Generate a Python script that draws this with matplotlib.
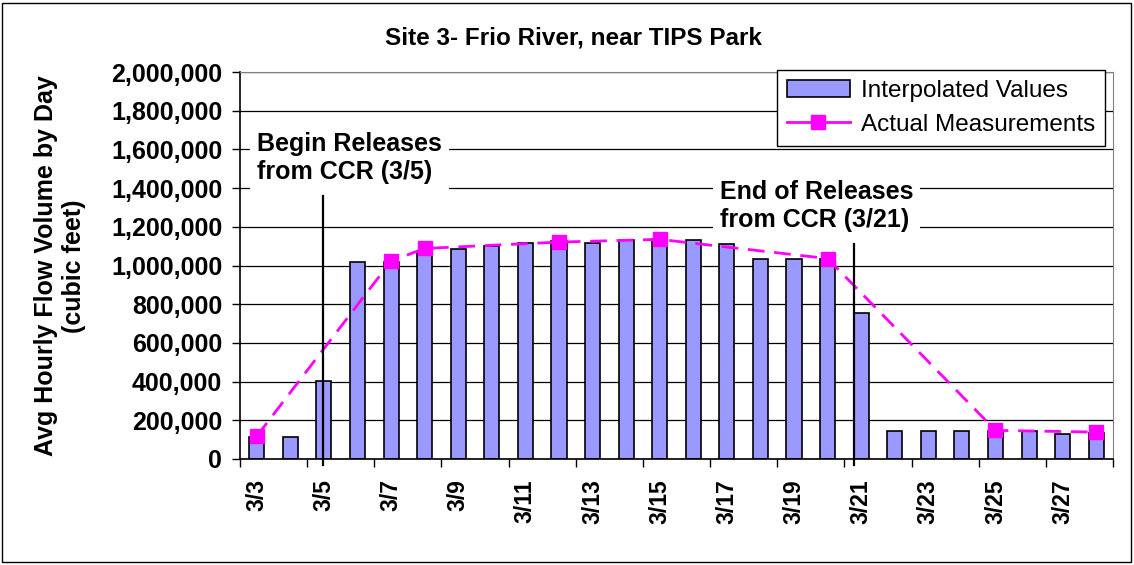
import numpy as np
import matplotlib
matplotlib.use('Agg')
import matplotlib.pyplot as plt
from matplotlib.patches import Rectangle
from matplotlib.lines import Line2D
from matplotlib.ticker import FixedLocator, FuncFormatter

plt.rcParams['font.family'] = ['Liberation Sans', 'DejaVu Sans']

# ---- data ----
days = ['3/3', '3/4', '3/5', '3/6', '3/7', '3/8', '3/9', '3/10', '3/11', '3/12',
        '3/13', '3/14', '3/15', '3/16', '3/17', '3/18', '3/19', '3/20', '3/21',
        '3/22', '3/23', '3/24', '3/25', '3/26', '3/27', '3/28']
interpolated = [114000, 114000, 401000, 1017000, 1020000, 1076000, 1083000, 1100000,
                1118000, 1125000, 1118000, 1131000, 1135000, 1131000, 1111000, 1033000,
                1033000, 1033000, 756000, 144000, 144000, 144000, 144000, 144000,
                127000, 136000]
measured_days = ['3/3', '3/7', '3/8', '3/12', '3/15', '3/20', '3/25', '3/28']
measured = [118000, 1023000, 1088000, 1121000, 1135000, 1036000, 148000, 139000]

x = np.arange(len(days))
xm = [days.index(d) for d in measured_days]

fig = plt.figure(figsize=(11.34, 5.65), dpi=100)
ax = fig.add_axes([240 / 1134, 1 - 459 / 565, 873 / 1134, 387 / 565])

ax.set_axisbelow(True)
ax.yaxis.grid(True, color='black', linewidth=0.9)

bars = ax.bar(x, interpolated, width=0.45, color='#9999FF', edgecolor='black',
              linewidth=1.2, zorder=2)
ax.plot(xm, measured, color='#FF00FF', linestyle='--', dashes=(6, 3.5), linewidth=2,
        marker='s', markersize=9.5, zorder=3)

ax.set_xlim(-0.5, len(days) - 0.5)
ax.set_ylim(0, 2000000)
ax.set_yticks(np.arange(0, 2000001, 200000))
ax.yaxis.set_major_formatter(FuncFormatter(lambda v, _: f'{v:,.0f}'))

# ticks between categories every 2 days, labels on every other day
ax.xaxis.set_major_locator(FixedLocator(np.arange(-0.5, len(days), 2)))
ax.xaxis.set_minor_locator(FixedLocator(x[::2]))
ax.xaxis.set_major_formatter(FuncFormatter(lambda v, _: ''))
ax.set_xticklabels(days[::2], minor=True)
ax.tick_params(axis='x', which='major', length=5.8, width=1, direction='out')
ax.tick_params(axis='x', which='minor', length=0, pad=14.5, labelsize=16.5,
               labelrotation=90)
ax.tick_params(axis='y', length=5.8, width=1, labelsize=18, pad=7)
for lab in ax.get_xticklabels(minor=True) + ax.get_yticklabels():
    lab.set_fontweight('bold')

for s in ['top', 'right']:
    ax.spines[s].set_color('#808080')
ax.spines['left'].set_linewidth(1.2)
ax.spines['bottom'].set_linewidth(1.2)

# release markers
ax.plot([1.96, 1.96], [1361000, -31000], color='black', linewidth=1.6, clip_on=False, zorder=4)
ax.plot([17.80, 17.80], [1112000, -31000], color='black', linewidth=1.6, clip_on=False, zorder=4)
ax.text(0.0, 1557000, 'Begin Releases\nfrom CCR (3/5)', ha='left', va='center',
        fontsize=18, fontweight='bold', zorder=5,
        bbox=dict(facecolor='white', edgecolor='none', pad=5))
ax.text(13.79, 1309000, 'End of Releases\nfrom CCR (3/21)', ha='left', va='center',
        fontsize=18, fontweight='bold', zorder=5,
        bbox=dict(facecolor='white', edgecolor='none', pad=5))

meas_handle = Line2D([], [], color='#FF00FF', linewidth=2, marker='s', markersize=9.5)
leg = ax.legend([bars, meas_handle], ['Interpolated Values', 'Actual Measurements'],
                loc='upper right', bbox_to_anchor=(1105 / 1134, 1 - 70 / 565),
                bbox_transform=fig.transFigure, borderaxespad=0, fontsize=17.5,
                frameon=True, fancybox=False, framealpha=1, edgecolor='black',
                handlelength=2.6, handletextpad=0.45, borderpad=0.4, labelspacing=0.5)
leg.get_frame().set_linewidth(1)

fig.text(573 / 1134, 1 - 38 / 565, 'Site 3- Frio River, near TIPS Park', ha='center',
         va='center', fontsize=17.5, fontweight='bold')
fig.text(60 / 1134, 1 - 266 / 565, 'Avg Hourly Flow Volume by Day\n(cubic feet)',
         rotation=90, ha='center', va='center', fontsize=18, fontweight='bold',
         multialignment='center')

fig.patches.append(Rectangle((2 / 1134, 3 / 565), 1129 / 1134, 559 / 565,
                             transform=fig.transFigure, fill=False,
                             edgecolor='black', linewidth=1))

fig.savefig('out.png', dpi=100)
